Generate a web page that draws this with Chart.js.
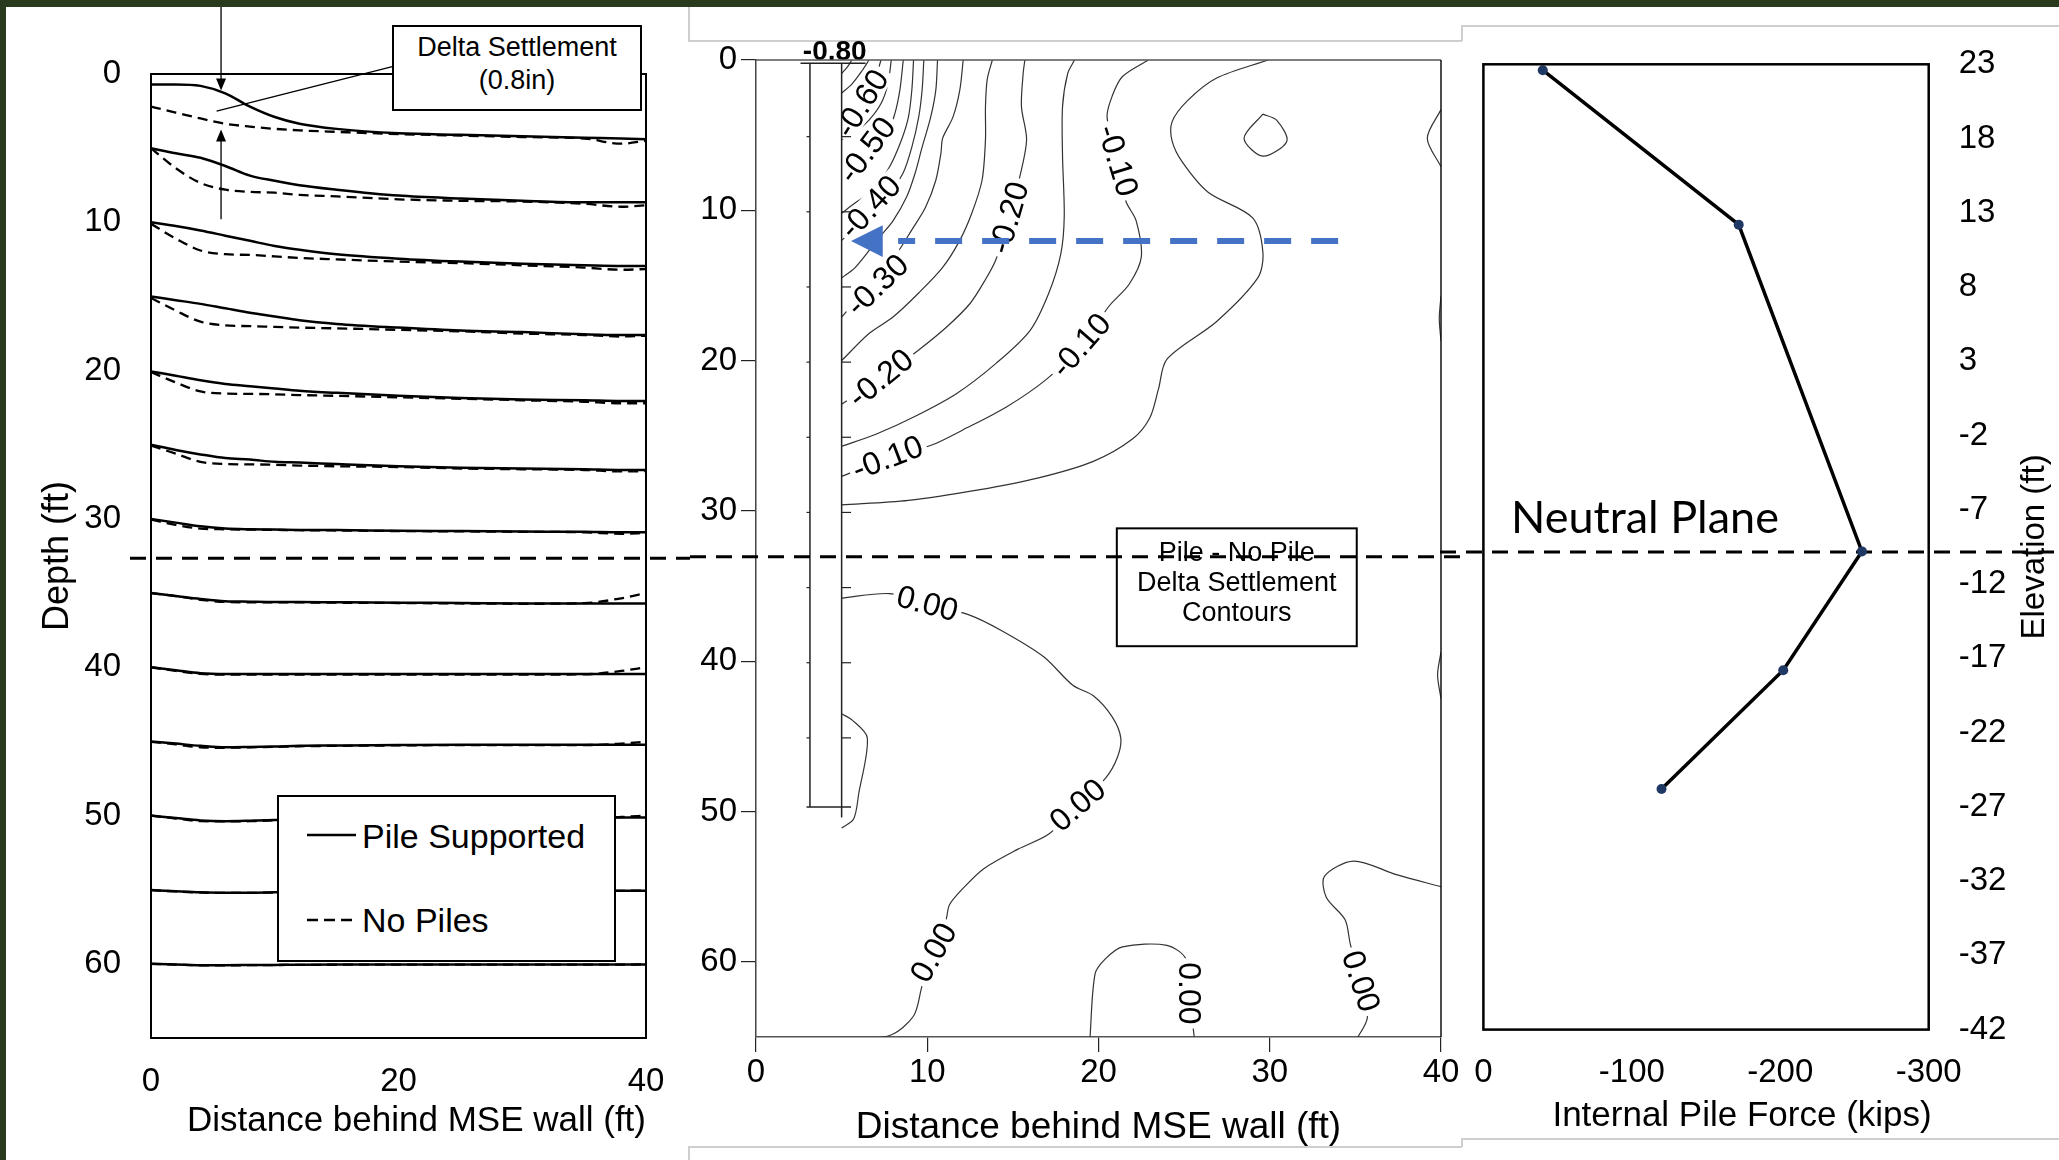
<!DOCTYPE html>
<html>
<head>
<meta charset="utf-8">
<title>Pile vs No Pile settlement</title>
<script src="https://cdn.jsdelivr.net/npm/chart.js@4.4.1/dist/chart.umd.min.js"></script>
<style>
  html, body { margin: 0; padding: 0; background: #fff; }
  body { width: 2059px; height: 1160px; position: relative; overflow: hidden;
         font-family: "Liberation Sans", Arial, sans-serif; color: #000; }
  canvas { position: absolute; }
  .band { position: absolute; background: #2a3b1d; }
  .frame { position: absolute; background: #cfcfcf; }
  .box { position: absolute; background: #fff; border: 2px solid #000; box-sizing: border-box; }
  .abs { position: absolute; white-space: nowrap; }
</style>
</head>
<body>

<!-- picture frames around the pasted panels -->
<div class="frame" style="left:688px;top:7px;width:2px;height:34px"></div>
<div class="frame" style="left:688px;top:40px;width:774px;height:2px"></div>
<div class="frame" style="left:1461px;top:25px;width:2px;height:16px"></div>
<div class="frame" style="left:1461px;top:25px;width:598px;height:2px"></div>
<div class="frame" style="left:688px;top:1146px;width:774px;height:2px"></div>
<div class="frame" style="left:688px;top:1146px;width:2px;height:14px"></div>
<div class="frame" style="left:1461px;top:1138px;width:2px;height:9px"></div>
<div class="frame" style="left:1461px;top:1138px;width:598px;height:2px"></div>

<canvas id="c1" width="683" height="1143" style="left:7px;top:7px"></canvas>
<canvas id="c2" width="772" height="1130" style="left:690px;top:20px"></canvas>
<canvas id="c3" width="619" height="1128" style="left:1440px;top:10px"></canvas>

<div class="box" style="left:392px;top:25px;width:250px;height:86px;padding-top:4px;text-align:center;font-size:27px;line-height:33px;">
  Delta Settlement<br>(0.8in)
</div>

<div class="box" style="left:277px;top:795px;width:339px;height:167px;">
  <svg class="abs" style="left:28px;top:28px" width="50" height="20"><line x1="0" y1="10" x2="49" y2="10" stroke="#000" stroke-width="2.5"/></svg>
  <div class="abs" style="left:83px;top:18px;font-size:34px;line-height:42px">Pile Supported</div>
  <svg class="abs" style="left:28px;top:113px" width="50" height="20"><line x1="0" y1="10" x2="49" y2="10" stroke="#000" stroke-width="2.5" stroke-dasharray="11 6"/></svg>
  <div class="abs" style="left:83px;top:102px;font-size:34px;line-height:42px">No Piles</div>
</div>

<div class="abs" style="left:1511px;top:494px;font-family:Lato,'Open Sans',sans-serif;font-size:45px;line-height:45px">Neutral Plane</div>

<div class="band" style="left:0;top:0;width:2059px;height:7px"></div>
<div class="band" style="left:0;top:0;width:6px;height:1160px"></div>

<script>
// ---- tick labels ----
const depthTicks = [0, 10, 20, 30, 40, 50, 60];
const distTicksLeft = [0, 20, 40];
const distTicksMid = [0, 10, 20, 30, 40];
const forceTicks = [0, -100, -200, -300];
const elevTicks = [23, 18, 13, 8, 3, -2, -7, -12, -17, -22, -27, -32, -37, -42];

// ---- panel 1: depth of each soil layer (ft) vs distance behind wall ----
const profileX = [0, 2, 4, 6, 8, 10, 12, 15, 20, 25, 30, 35, 38, 40];
const pileSupported = [
  [0.7, 0.7, 0.8, 1.3, 2.2, 2.9, 3.35, 3.7, 4.0, 4.1, 4.2, 4.3, 4.35, 4.4],
  [5.0, 5.35, 5.65, 6.2, 6.85, 7.2, 7.5, 7.8, 8.2, 8.4, 8.55, 8.65, 8.65, 8.65],
  [10.0, 10.25, 10.55, 10.9, 11.25, 11.6, 11.85, 12.15, 12.45, 12.65, 12.8, 12.9, 12.95, 12.95],
  [15.0, 15.25, 15.5, 15.8, 16.1, 16.35, 16.6, 16.85, 17.1, 17.3, 17.4, 17.55, 17.6, 17.6],
  [20.05, 20.35, 20.65, 20.9, 21.05, 21.2, 21.35, 21.5, 21.7, 21.85, 21.95, 22.0, 22.05, 22.05],
  [25.0, 25.35, 25.65, 25.9, 26.0, 26.15, 26.2, 26.3, 26.45, 26.55, 26.6, 26.65, 26.7, 26.7],
  [30.0, 30.25, 30.5, 30.65, 30.7, 30.72, 30.74, 30.75, 30.8, 30.82, 30.85, 30.87, 30.9, 30.9],
  [35.0, 35.2, 35.4, 35.55, 35.58, 35.6, 35.6, 35.62, 35.65, 35.67, 35.7, 35.7, 35.7, 35.7],
  [40.0, 40.2, 40.4, 40.45, 40.45, 40.45, 40.45, 40.45, 40.45, 40.45, 40.45, 40.45, 40.45, 40.45],
  [45.0, 45.15, 45.3, 45.4, 45.38, 45.35, 45.3, 45.28, 45.25, 45.23, 45.23, 45.23, 45.23, 45.23],
  [50.0, 50.17, 50.33, 50.38, 50.35, 50.3, 50.22, 50.17, 50.15, 50.14, 50.14, 50.14, 50.14, 50.14],
  [55.02, 55.1, 55.17, 55.2, 55.2, 55.17, 55.15, 55.12, 55.1, 55.08, 55.07, 55.07, 55.07, 55.07],
  [60.0, 60.04, 60.09, 60.09, 60.08, 60.07, 60.06, 60.05, 60.04, 60.04, 60.04, 60.04, 60.04, 60.04]
];
const noPiles = [
  [2.2, 2.6, 3.0, 3.35, 3.55, 3.7, 3.8, 3.9, 4.05, 4.15, 4.25, 4.35, 4.7, 4.5],
  [5.0, 6.35, 7.35, 7.8, 7.95, 8.0, 8.15, 8.25, 8.45, 8.55, 8.6, 8.75, 8.95, 8.85],
  [10.1, 11.1, 11.9, 12.15, 12.2, 12.3, 12.4, 12.5, 12.65, 12.75, 12.9, 13.05, 13.2, 13.15],
  [15.1, 15.95, 16.7, 16.95, 17.0, 17.05, 17.1, 17.15, 17.25, 17.35, 17.5, 17.6, 17.7, 17.65],
  [20.1, 20.8, 21.4, 21.55, 21.57, 21.6, 21.65, 21.7, 21.8, 21.9, 22.0, 22.1, 22.2, 22.2],
  [25.05, 25.6, 26.15, 26.3, 26.32, 26.35, 26.4, 26.45, 26.5, 26.6, 26.65, 26.7, 26.8, 26.78],
  [30.05, 30.4, 30.65, 30.7, 30.72, 30.74, 30.76, 30.78, 30.82, 30.84, 30.87, 30.9, 31.0, 30.95],
  [35.0, 35.2, 35.45, 35.6, 35.62, 35.62, 35.63, 35.65, 35.67, 35.7, 35.72, 35.68, 35.35, 35.0],
  [40.0, 40.25, 40.45, 40.5, 40.5, 40.5, 40.5, 40.5, 40.5, 40.5, 40.5, 40.48, 40.25, 40.0],
  [45.03, 45.2, 45.4, 45.43, 45.4, 45.37, 45.33, 45.3, 45.27, 45.25, 45.25, 45.25, 45.15, 45.03],
  [50.0, 50.2, 50.38, 50.4, 50.38, 50.32, 50.25, 50.2, 50.18, 50.18, 50.18, 50.18, 50.1, 50.0],
  [55.03, 55.12, 55.19, 55.22, 55.22, 55.19, 55.17, 55.14, 55.12, 55.1, 55.09, 55.09, 55.08, 55.05],
  [60.0, 60.05, 60.1, 60.1, 60.09, 60.08, 60.07, 60.06, 60.05, 60.05, 60.05, 60.05, 60.05, 60.04]
];

// ---- panel 2: delta settlement contours (x = distance ft, d = depth ft) ----
const contourX = [
  [5.6, 5.35, 5.0],
  [6.6, 6.2, 5.6, 5.0],
  [7.3, 7.0, 6.6, 5.8, 5.0],
  [7.9, 7.7, 7.3, 6.6, 5.8, 5.0],
  [8.6, 8.4, 8.1, 7.6, 6.4, 5.0],
  [9.2, 9.1, 8.9, 8.5, 7.8, 6.8, 5.8, 5.0],
  [9.8, 9.7, 9.5, 9.1, 8.6, 7.8, 6.5, 5.0],
  [10.6, 10.5, 10.2, 9.7, 9.3, 8.8, 8.0, 7.2, 5.8, 5.0],
  [12.1, 11.9, 11.5, 10.9, 10.8, 10.5, 9.9, 9.1, 8.2, 6.6, 5.0],
  [13.8, 13.5, 13.4, 13.4, 13.2, 12.6, 11.9, 10.9, 9.5, 8.0, 6.6, 5.0],
  [15.7, 15.6, 15.5, 15.8, 15.4, 14.8, 14.0, 13.4, 12.5, 11.1, 9.5, 7.3, 5.0],
  [18.6, 18.2, 17.9, 17.9, 18.0, 17.8, 17.1, 16.0, 14.0, 11.7, 9.3, 7.0, 5.0],
  [22.9, 21.4, 20.8, 20.5, 21.1, 21.6, 22.2, 22.5, 21.8, 20.6, 19.0, 16.9, 14.6, 12.1, 10.3, 7.7, 5.0],
  [29.9, 26.9, 25.2, 24.3, 24.3, 24.9, 26.4, 29.0, 29.6, 29.3, 26.9, 24.0, 23.5, 23.0, 22.0, 19.7, 16.5, 13.0, 8.9, 5.0],
  [29.6, 30.4, 31.0, 29.6, 28.5, 29.6],
  [40, 39.2, 40],
  [40, 39.9, 40],
  [5.0, 7.8, 10.0, 12.4, 14.4, 16.8, 18.5, 19.7, 20.8, 21.3, 21.1, 20.4, 18.8, 17.1, 15.3, 13.3, 12.1, 11.3, 11.1, 10.4, 9.7, 9.2, 7.8, 5.4],
  [5.0, 5.6, 6.5, 6.0, 5.7, 5.0],
  [19.5, 19.8, 20.4, 21.4, 24.0, 25.1, 25.3, 25.6],
  [35.1, 35.7, 35.3, 34.7, 34.4, 33.3, 33.2, 34.9, 37.4, 40],
  [40, 39.8, 40]
];
const contourDepth = [
  [0, 0.44, 0.9],
  [0, 0.7, 1.6, 2.2],
  [0, 1.1, 2.2, 3.2, 4.0],
  [0, 1.6, 2.9, 4.0, 4.8, 5.3],
  [0, 2.0, 3.6, 5.1, 6.6, 8.0],
  [0, 2.0, 3.8, 5.3, 7.1, 8.7, 9.5, 10.2],
  [0, 2.0, 3.8, 5.8, 7.5, 8.9, 10.4, 12.0],
  [0, 2.0, 3.8, 5.8, 7.5, 9.1, 10.7, 11.8, 13.8, 14.5],
  [0, 2.0, 3.8, 5.2, 6.2, 8.0, 9.8, 11.3, 12.9, 15.0, 17.1],
  [0, 1.3, 3.1, 5.3, 8.0, 10.2, 12.0, 13.8, 15.5, 17.1, 18.2, 20.0],
  [0, 0.9, 3.1, 5.3, 7.8, 10.5, 13.3, 14.6, 16.2, 17.8, 19.3, 21.2, 22.9],
  [0, 0.9, 3.1, 6.4, 10.4, 12.9, 15.5, 18.0, 20.2, 22.2, 23.7, 24.9, 25.7],
  [0, 1.1, 2.4, 3.8, 6.7, 9.4, 10.7, 13.1, 14.9, 16.4, 19.0, 21.3, 23.1, 24.6, 25.6, 26.5, 27.7],
  [0, 1.2, 2.7, 4.1, 5.4, 6.8, 8.8, 10.5, 12.8, 14.5, 17.4, 19.9, 21.9, 23.8, 25.2, 26.7, 27.8, 28.6, 29.3, 29.6],
  [3.6, 4.0, 5.4, 6.4, 5.2, 3.6],
  [3.3, 5.2, 7.1],
  [15.7, 17.2, 18.7],
  [35.8, 35.5, 36.2, 36.9, 38.0, 39.7, 41.6, 42.3, 43.7, 45.1, 46.4, 47.8, 49.6, 51.5, 52.5, 53.8, 55.1, 56.2, 57.2, 59.4, 61.6, 63.6, 64.9, 65.1],
  [43.5, 43.9, 45.1, 48.8, 50.5, 51.1],
  [65.1, 60.8, 59.8, 59.0, 58.9, 59.8, 62.1, 65.1],
  [65.1, 63.7, 61.3, 58.8, 57.2, 55.7, 54.3, 53.3, 54.2, 55.0],
  [39.4, 40.9, 42.5]
];
const labelText = ['-0.60', '-0.50', '-0.40', '-0.30', '-0.20', '-0.10', '-0.20', '-0.10', '-0.10', '0.00', '0.00', '0.00', '0.00', '0.00'];
const labelX = [6.2, 6.5, 6.7, 7.1, 7.3, 7.7, 14.8, 21.1, 19.0, 10.0, 18.8, 10.4, 25.3, 35.3];
const labelDepth = [2.9, 6.0, 9.8, 15.0, 21.2, 26.5, 10.5, 6.7, 19.0, 36.2, 49.6, 59.4, 62.1, 61.3];
const labelAngle = [-58, -53, -47, -44, -39, -21, -74, 73, -49, 15, -41, -61, 90, 72];
const pileTickDepths = [5, 10, 15, 20, 25, 30, 35, 40, 45];

// ---- panel 3: internal pile force ----
const pileForce = [-40, -172, -255, -202, -120];
const pileElevation = [22.6, 12.2, -9.8, -17.8, -25.8];

Chart.defaults.font.family = '"Liberation Sans", Arial, sans-serif';
Chart.defaults.color = '#000';

function fixTicks(values) {
  return (axis) => { axis.ticks = values.map(v => ({ value: v })); };
}
function seg(ctx, x1, y1, x2, y2) {
  ctx.beginPath(); ctx.moveTo(x1, y1); ctx.lineTo(x2, y2); ctx.stroke();
}
const noGrid = { display: false, drawTicks: false };

// annotations for the settlement profile panel
const panel1Extras = {
  id: 'panel1Extras',
  afterDatasetsDraw(chart) {
    const { ctx, chartArea: a, scales: { x, y } } = chart;
    ctx.save();
    ctx.strokeStyle = '#000';
    ctx.lineWidth = 2;
    ctx.strokeRect(a.left, a.top, a.right - a.left, a.bottom - a.top);

    // delta settlement arrows and leader
    ctx.lineWidth = 1.3;
    const ax = x.getPixelForValue(5.66);
    seg(ctx, ax, 0, ax, y.getPixelForValue(1.12) - 10);
    seg(ctx, ax, y.getPixelForValue(9.8), ax, y.getPixelForValue(3.75) + 10);
    seg(ctx, x.getPixelForValue(19.5), y.getPixelForValue(-0.5), x.getPixelForValue(5.3), y.getPixelForValue(2.5));
    ctx.fillStyle = '#000';
    const t1 = y.getPixelForValue(1.12), t2 = y.getPixelForValue(3.75);
    ctx.beginPath(); ctx.moveTo(ax, t1); ctx.lineTo(ax - 5, t1 - 12); ctx.lineTo(ax + 5, t1 - 12); ctx.closePath(); ctx.fill();
    ctx.beginPath(); ctx.moveTo(ax, t2); ctx.lineTo(ax - 5, t2 + 12); ctx.lineTo(ax + 5, t2 + 12); ctx.closePath(); ctx.fill();

    // neutral plane
    ctx.lineWidth = 3;
    ctx.setLineDash([16, 10]);
    const ny = y.getPixelForValue(32.65);
    seg(ctx, a.left - 21, ny, chart.width, ny);
    ctx.restore();
  }
};

const p1Sets = [];
pileSupported.forEach((ys, i) => {
  p1Sets.push({ data: profileX.map((v, j) => ({ x: v, y: ys[j] })), showLine: true, borderColor: '#000',
    borderWidth: 2.5, pointRadius: 0, cubicInterpolationMode: 'monotone' });
  p1Sets.push({ data: profileX.map((v, j) => ({ x: v, y: noPiles[i][j] })), showLine: true, borderColor: '#000',
    borderWidth: 2.3, borderDash: [10, 6], pointRadius: 0, cubicInterpolationMode: 'monotone' });
});

new Chart(document.getElementById('c1'), {
  type: 'scatter',
  data: { datasets: p1Sets },
  options: {
    responsive: false, animation: false,
    layout: { autoPadding: false, padding: { top: 67, right: 44, left: 0, bottom: 0 } },
    plugins: { legend: { display: false }, tooltip: { enabled: false } },
    scales: {
      x: { type: 'linear', min: 0, max: 40, afterBuildTicks: fixTicks(distTicksLeft), afterFit: s => { s.height = 112; },
        grid: noGrid, border: { display: false },
        ticks: { padding: 24, font: { size: 33 }, callback: v => String(v) },
        title: { display: true, text: 'Distance behind MSE wall (ft)', align: 'end', font: { size: 35 }, padding: { top: 0, bottom: 8 } } },
      y: { type: 'linear', min: 0, max: 65, reverse: true, afterBuildTicks: fixTicks(depthTicks), afterFit: s => { s.width = 144; },
        grid: noGrid, border: { display: false },
        ticks: { padding: 30, font: { size: 33 }, callback: v => String(v) },
        title: { display: true, text: 'Depth (ft)', font: { size: 36 }, padding: { top: 29, bottom: 0 } } }
    }
  },
  plugins: [panel1Extras]
});

// contour panel extras: labels, pile, arrow, legend, neutral plane
const panel2Extras = {
  id: 'panel2Extras',
  afterDatasetsDraw(chart) {
    const { ctx, chartArea: a, scales: { x, y } } = chart;
    const px = v => x.getPixelForValue(v), py = v => y.getPixelForValue(v);
    ctx.save();

    ctx.font = '32px "Liberation Sans", Arial, sans-serif';
    ctx.textAlign = 'center';
    ctx.textBaseline = 'middle';
    labelText.forEach((t, i) => {
      ctx.save();
      ctx.translate(px(labelX[i]), py(labelDepth[i]));
      ctx.rotate(labelAngle[i] * Math.PI / 180);
      const w = ctx.measureText(t).width;
      ctx.fillStyle = '#fff';
      ctx.fillRect(-w / 2 - 4, -13, w + 8, 26);
      ctx.fillStyle = '#000';
      ctx.fillText(t, 0, 1);
      ctx.restore();
    });

    // pile outline with depth ticks
    ctx.strokeStyle = '#222';
    ctx.lineWidth = 1.5;
    seg(ctx, px(3.15), py(0.22), px(3.15), py(49.7));
    seg(ctx, px(5.0), py(0.22), px(5.0), py(50.4));
    seg(ctx, px(2.6), py(0.22), px(6.4), py(0.22));
    seg(ctx, px(2.95), py(49.7), px(5.55), py(49.7));
    ctx.lineWidth = 1.2;
    pileTickDepths.forEach(d => {
      seg(ctx, px(2.95), py(d + 0.1), px(3.15), py(d + 0.1));
      seg(ctx, px(5.0), py(d + 0.1), px(5.55), py(d + 0.1));
    });

    ctx.font = 'bold 28px "Liberation Sans", Arial, sans-serif';
    ctx.fillStyle = '#000';
    ctx.fillText('-0.80', px(4.6), py(-0.53));

    // frame top / right
    ctx.strokeStyle = '#555';
    ctx.lineWidth = 1.5;
    seg(ctx, a.left, a.top, a.right, a.top);
    ctx.strokeStyle = '#111';
    seg(ctx, a.right, a.top, a.right, a.bottom);

    // blue arrow
    ctx.strokeStyle = '#4472c4';
    ctx.fillStyle = '#4472c4';
    ctx.lineWidth = 6;
    ctx.setLineDash([27, 20]);
    ctx.lineDashOffset = 10;
    seg(ctx, px(8.3), py(12.05), px(34.5), py(12.05));
    ctx.setLineDash([]);
    ctx.beginPath();
    ctx.moveTo(px(5.55), py(12.05));
    ctx.lineTo(px(7.4), py(11.0));
    ctx.lineTo(px(7.4), py(13.1));
    ctx.closePath();
    ctx.fill();

    // legend box
    const bx1 = px(21.07), bx2 = px(35.08), by1 = py(31.16), by2 = py(39.0);
    ctx.fillStyle = '#fff';
    ctx.fillRect(bx1, by1, bx2 - bx1, by2 - by1);
    ctx.strokeStyle = '#000';
    ctx.lineWidth = 2;
    ctx.strokeRect(bx1, by1, bx2 - bx1, by2 - by1);
    ctx.fillStyle = '#000';
    ctx.font = '27px "Liberation Sans", Arial, sans-serif';
    const cx = (bx1 + bx2) / 2;
    ctx.fillText('Pile - No Pile', cx, py(32.82));
    ctx.fillText('Delta Settlement', cx, py(34.82));
    ctx.fillText('Contours', cx, py(36.86));

    // neutral plane
    ctx.strokeStyle = '#000';
    ctx.lineWidth = 3;
    ctx.setLineDash([16, 10]);
    ctx.lineDashOffset = 0;
    seg(ctx, 0, py(33.05), chart.width, py(33.05));
    ctx.restore();
  }
};

new Chart(document.getElementById('c2'), {
  type: 'scatter',
  data: {
    datasets: contourX.map((xs, i) => ({
      data: xs.map((v, j) => ({ x: v, y: contourDepth[i][j] })),
      showLine: true, borderColor: '#333', borderWidth: 1.2, pointRadius: 0, tension: 0.3
    }))
  },
  options: {
    responsive: false, animation: false,
    layout: { autoPadding: false, padding: { top: 40, right: 21, left: 0, bottom: 0 } },
    plugins: { legend: { display: false }, tooltip: { enabled: false } },
    scales: {
      x: { type: 'linear', min: 0, max: 40, afterBuildTicks: fixTicks(distTicksMid), afterFit: s => { s.height = 113; },
        grid: { drawOnChartArea: false, drawTicks: true, tickLength: 15, color: '#222', lineWidth: 1.2 },
        border: { display: true, color: '#555', width: 1.5 },
        ticks: { padding: 1, font: { size: 33 }, callback: v => String(v) },
        title: { display: true, text: 'Distance behind MSE wall (ft)', font: { size: 37 }, padding: { top: 0, bottom: 0 } } },
      y: { type: 'linear', min: 0, max: 65, reverse: true, afterBuildTicks: fixTicks(depthTicks), afterFit: s => { s.width = 66; },
        grid: { drawOnChartArea: false, drawTicks: true, tickLength: 15, color: '#222', lineWidth: 1.2 },
        border: { display: true, color: '#444', width: 1.5 },
        ticks: { padding: 4, font: { size: 33 }, callback: v => String(v) } }
    }
  },
  plugins: [panel2Extras]
});

// pile force panel extras
const panel3Extras = {
  id: 'panel3Extras',
  beforeDatasetsDraw(chart) {
    const { ctx, chartArea: a, scales: { y } } = chart;
    ctx.save();
    ctx.fillStyle = '#000';
    ctx.textBaseline = 'middle';
    ctx.font = '35px "Liberation Sans", Arial, sans-serif';
    ctx.textAlign = 'right';
    ctx.fillText('Internal Pile Force (kips)', a.right + 3, a.bottom + 87);
    ctx.font = '33px "Liberation Sans", Arial, sans-serif';
    ctx.textAlign = 'center';
    ctx.translate(a.right + 106, (a.top + a.bottom) / 2);
    ctx.rotate(-Math.PI / 2);
    ctx.fillText('Elevation (ft)', 0, 0);
    ctx.restore();

    ctx.save();
    ctx.strokeStyle = '#000';
    ctx.lineWidth = 3;
    ctx.setLineDash([16, 10]);
    const ny = y.getPixelForValue(-9.84);
    seg(ctx, 0, ny, chart.width, ny);
    ctx.restore();
  },
  afterDatasetsDraw(chart) {
    const { ctx, chartArea: a } = chart;
    ctx.save();
    ctx.strokeStyle = '#000';
    ctx.lineWidth = 2.5;
    ctx.strokeRect(a.left, a.top, a.right - a.left, a.bottom - a.top);
    ctx.restore();
  }
};

new Chart(document.getElementById('c3'), {
  type: 'scatter',
  data: {
    datasets: [{
      data: pileForce.map((f, i) => ({ x: f, y: pileElevation[i] })),
      showLine: true, borderColor: '#000', borderWidth: 3.5,
      pointRadius: 5, pointBackgroundColor: '#203864', pointBorderColor: '#203864', pointBorderWidth: 0
    }]
  },
  options: {
    responsive: false, animation: false,
    layout: { autoPadding: false, padding: { top: 54.3, right: 0, left: 43.4, bottom: 0 } },
    plugins: { legend: { display: false }, tooltip: { enabled: false } },
    scales: {
      x: { type: 'linear', min: -300, max: 0, reverse: true, afterBuildTicks: fixTicks(forceTicks), afterFit: s => { s.height = 108.4; },
        grid: noGrid, border: { display: false },
        ticks: { padding: 24, font: { size: 33 }, callback: v => String(v) } },
      y: { type: 'linear', position: 'right', min: -42, max: 23, afterBuildTicks: fixTicks(elevTicks), afterFit: s => { s.width = 130.3; },
        grid: noGrid, border: { display: false },
        ticks: { padding: 30, font: { size: 33 }, callback: v => String(v) } }
    }
  },
  plugins: [panel3Extras]
});
</script>
</body>
</html>
